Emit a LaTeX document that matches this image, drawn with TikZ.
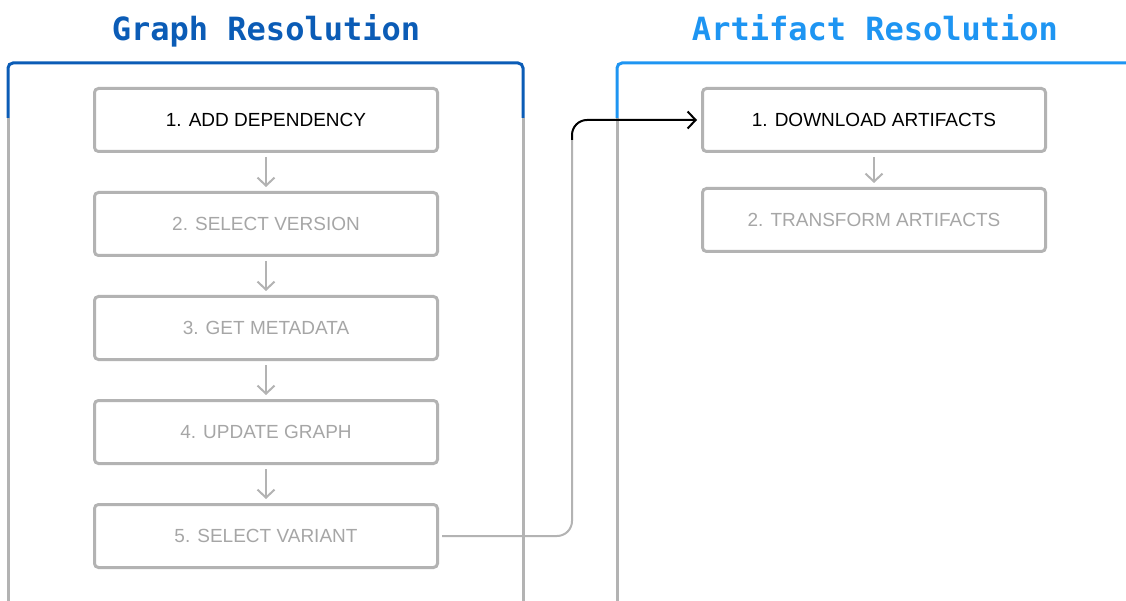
\documentclass[tikz,border=0pt]{standalone}
\usepackage{fontspec}
\setmainfont{Liberation Sans}
\newfontfamily\titulofont{DejaVu Sans Mono}
\usetikzlibrary{arrows.meta, positioning}
\definecolor{azulesc}{HTML}{0B5CB6}
\definecolor{azulcla}{HTML}{1E95F2}
\definecolor{cinza}{HTML}{B3B3B3}
\definecolor{textocinza}{HTML}{A6A6A6}

\begin{document}
\begin{tikzpicture}[x=1pt, y=-1pt,
      node distance=38pt,
      passo/.style={draw=cinza, line width=3pt, rounded corners=4pt, inner sep=0pt,
                    minimum width=343pt, minimum height=63pt, text=textocinza,
                    font=\fontsize{19}{22}\selectfont},
      ativo/.style={passo, text=black},
      seta/.style={-{Straight Barb[length=8pt, width=17pt]}, line width=2pt, draw=cinza,
                   shorten <=4pt, shorten >=4pt},
      titulo/.style={font=\titulofont\bfseries\fontsize{32}{36}\selectfont, anchor=base},
      borda/.style={line width=3pt, rounded corners=5pt}
    ]
    \useasboundingbox (0,0) rectangle (1126,601);
    \clip (0,0) rectangle (1126,601);
    % paineis
    \node[titulo, text=azulesc] (tg) at (266,41) {Graph Resolution};
    \node[titulo, text=azulcla] (ta) at (875,41) {Artifact Resolution};
    \draw[borda, cinza] (8,118) -- (8,601) (523,118) -- (523,601);
    \draw[borda, azulesc] (8,118) -- (8,63) -- (523,63) -- (523,118);
    \draw[borda, cinza] (617,118) -- (617,601);
    \draw[borda, azulcla] (617,118) -- (617,63) -- (1140,63);
    % graph resolution
    \node[ativo] (v1) at (266,120) {1. ADD DEPENDENCY};
    \node[passo, below=of v1] (v2) {2. SELECT VERSION};
    \node[passo, below=of v2] (v3) {3. GET METADATA};
    \node[passo, below=of v3] (v4) {4. UPDATE GRAPH};
    \node[passo, below=of v4] (v5) {5. SELECT VARIANT};
    \draw[seta] (v1) -- (v2);
    \draw[seta] (v2) -- (v3);
    \draw[seta] (v3) -- (v4);
    \draw[seta] (v4) -- (v5);
    % artifact resolution
    \node[ativo] (a1) at (874,120) {1. DOWNLOAD ARTIFACTS};
    \node[passo, below=34pt of a1] (a2) {2. TRANSFORM ARTIFACTS};
    \draw[seta] (a1) -- (a2);
    % ligacao
    \coordinate (curva) at (572,140);
    \draw[cinza, line width=2pt, rounded corners=15pt, shorten <=3pt] (v5.east) -| (curva);
    \draw[black, line width=2pt, rounded corners=15pt, shorten >=4pt,
          -{Straight Barb[length=8pt, width=17pt]}] (curva) |- (a1.west);
\end{tikzpicture}
\end{document}
